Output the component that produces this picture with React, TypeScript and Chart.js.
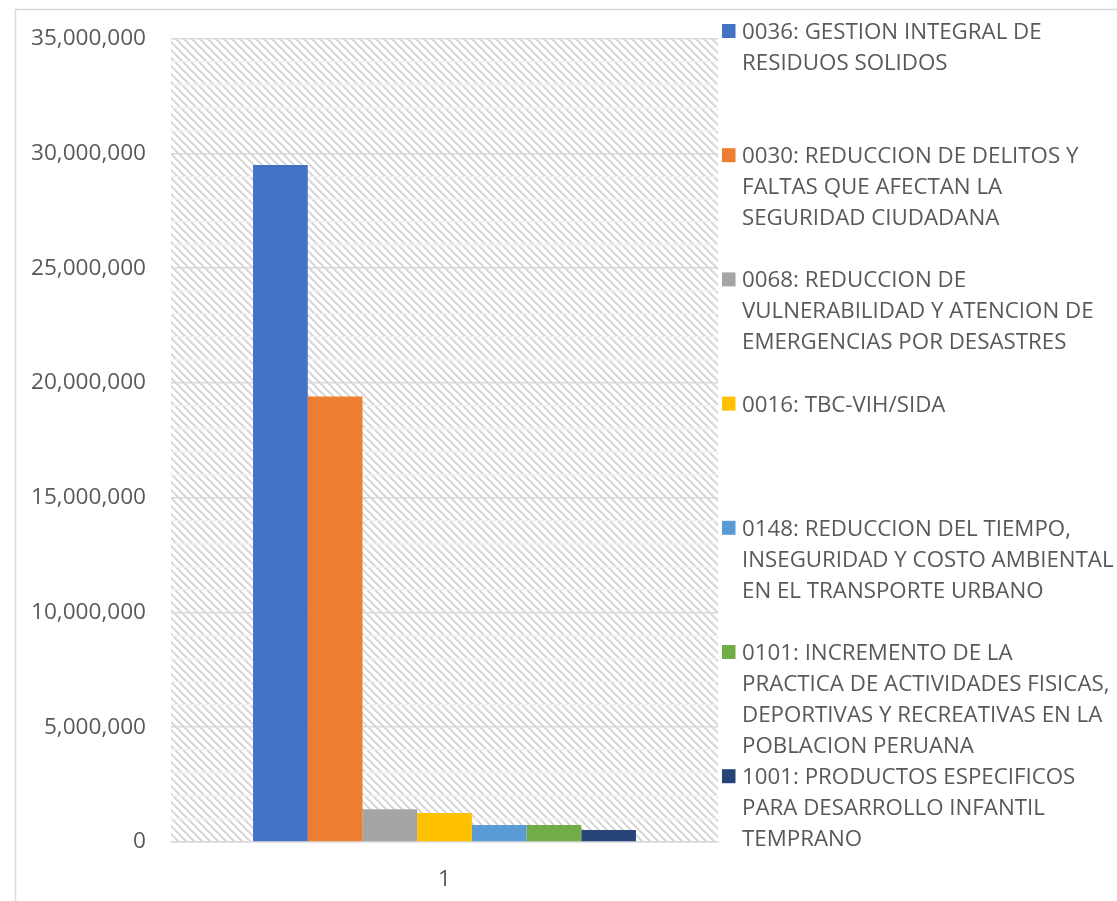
import React, { useEffect, useRef } from "react";
import { Chart, registerables } from "chart.js";

Chart.register(...registerables);

const categories = ["1"];

const legendLines: string[][] = [
  ["0036: GESTION INTEGRAL DE", "RESIDUOS SOLIDOS"],
  ["0030: REDUCCION DE DELITOS Y", "FALTAS QUE AFECTAN LA", "SEGURIDAD CIUDADANA"],
  ["0068: REDUCCION DE", "VULNERABILIDAD Y ATENCION DE", "EMERGENCIAS POR DESASTRES"],
  ["0016: TBC-VIH/SIDA"],
  ["0148: REDUCCION DEL TIEMPO,", "INSEGURIDAD Y COSTO AMBIENTAL", "EN EL TRANSPORTE URBANO"],
  ["0101: INCREMENTO DE LA", "PRACTICA DE ACTIVIDADES FISICAS,", "DEPORTIVAS Y RECREATIVAS EN LA", "POBLACION PERUANA"],
  ["1001: PRODUCTOS ESPECIFICOS", "PARA DESARROLLO INFANTIL", "TEMPRANO"],
];

const seriesValues = [29490000, 19410000, 1430000, 1260000, 740000, 745000, 520000];

const seriesColors = ["#4472C4", "#ED7D31", "#A5A5A5", "#FFC000", "#5B9BD5", "#70AD47", "#264478"];

const yMin = 0;
const yMax = 35000000;
const yMinorStep = 1000000;
const yMajorStep = 5000000;

const FONT = '"Open Sans", "Noto Sans", sans-serif';
const TEXT_COLOR = "#595959";

function makePattern(ctx: CanvasRenderingContext2D) {
  const c = document.createElement("canvas");
  c.width = 8;
  c.height = 8;
  const p = c.getContext("2d")!;
  p.fillStyle = "#ffffff";
  p.fillRect(0, 0, 8, 8);
  p.fillStyle = "#d9d9d9";
  for (let y = 0; y < 8; y++) {
    for (let x = 0; x < 8; x++) {
      const d = (((x - y) % 8) + 8) % 8;
      if (d < 3) p.fillRect(x, y, 1, 1);
    }
  }
  return ctx.createPattern(c, "repeat");
}

const backgroundPlugin = {
  id: "plotBg",
  beforeDraw(chart: any) {
    const { ctx, chartArea } = chart;
    ctx.save();
    ctx.fillStyle = "#ffffff";
    ctx.fillRect(0, 0, chart.width, chart.height);
    ctx.strokeStyle = "#d9d9d9";
    ctx.lineWidth = 1.5;
    ctx.strokeRect(15.5, 9.5, chart.width + 100, chart.height + 100);
    const pat = makePattern(ctx);
    if (pat) {
      ctx.fillStyle = pat;
      ctx.fillRect(chartArea.left, chartArea.top, chartArea.right - chartArea.left, chartArea.bottom - chartArea.top);
    }
    ctx.restore();
  },
};

const legendPlugin = {
  id: "customLegend",
  afterDraw(chart: any) {
    const { ctx } = chart;
    const datasets = chart.data.datasets;
    const boxX = chart.chartArea.right + 4;
    const textX = boxX + 20;
    const firstCenter = 31;
    const slot = 124.2;
    const lineH = 31;
    ctx.save();
    ctx.font = `22.3px ${FONT}`;
    ctx.fillStyle = TEXT_COLOR;
    ctx.textBaseline = "alphabetic";
    ctx.textAlign = "left";
    datasets.forEach((ds: any, i: number) => {
      const cy = firstCenter + slot * i;
      ctx.fillStyle = ds.backgroundColor;
      ctx.fillRect(boxX, cy - 7, 13.5, 14);
      ctx.fillStyle = TEXT_COLOR;
      const lines: string[] = ds.legendLines;
      lines.forEach((ln, j) => {
        ctx.fillText(ln, textX, cy + 8 + j * lineH);
      });
    });
    ctx.restore();
  },
};

export default function App() {
  const ref = useRef<HTMLCanvasElement | null>(null);

  useEffect(() => {
    document.body.style.margin = "0";
    const canvas = ref.current!;
    const chart = new Chart(canvas, {
      type: "bar",
      data: {
        labels: categories,
        datasets: legendLines.map((lines, i) => ({
          label: lines.join(" "),
          legendLines: lines,
          data: [seriesValues[i]],
          backgroundColor: seriesColors[i],
          borderWidth: 0,
          barPercentage: 1,
          categoryPercentage: 0.7,
        })) as any,
      },
      options: {
        animation: false,
        responsive: false,
        maintainAspectRatio: false,
        devicePixelRatio: 1,
        layout: { padding: { left: 0, top: 36, right: 399, bottom: 0 } },
        plugins: {
          legend: { display: false },
          tooltip: { enabled: false },
          title: { display: false },
        },
        scales: {
          x: {
            grid: { display: false, drawTicks: false },
            border: { display: true, color: "#d9d9d9", width: 1.5 },
            ticks: {
              color: TEXT_COLOR,
              font: { family: FONT, size: 22.5 },
              padding: 24,
            },
            afterFit: (s: any) => {
              s.height = 59;
            },
          },
          y: {
            min: yMin,
            max: yMax,
            grid: {
              drawTicks: false,
              lineWidth: 1.5,
              color: (c: any) =>
                c.tick && c.tick.value % yMajorStep === 0 ? "#d9d9d9" : "#f4f4f4",
            },
            border: { display: false },
            ticks: {
              stepSize: yMinorStep,
              autoSkip: false,
              color: TEXT_COLOR,
              font: { family: FONT, size: 22.6 },
              padding: 25,
              callback: (v: any) =>
                Number(v) % yMajorStep === 0 ? Number(v).toLocaleString("en-US") : "",
            },
            afterFit: (s: any) => {
              s.width = 171;
            },
          },
        },
      },
      plugins: [backgroundPlugin, legendPlugin],
    });
    if ((document as any).fonts && (document as any).fonts.ready) {
      (document as any).fonts.ready.then(() => chart.update());
    }
    return () => chart.destroy();
  }, []);

  return (
    <div style={{ position: "fixed", left: 0, top: 0, width: 1117, height: 901 }}>
      <canvas ref={ref} width={1117} height={901} style={{ display: "block" }} />
    </div>
  );
}
